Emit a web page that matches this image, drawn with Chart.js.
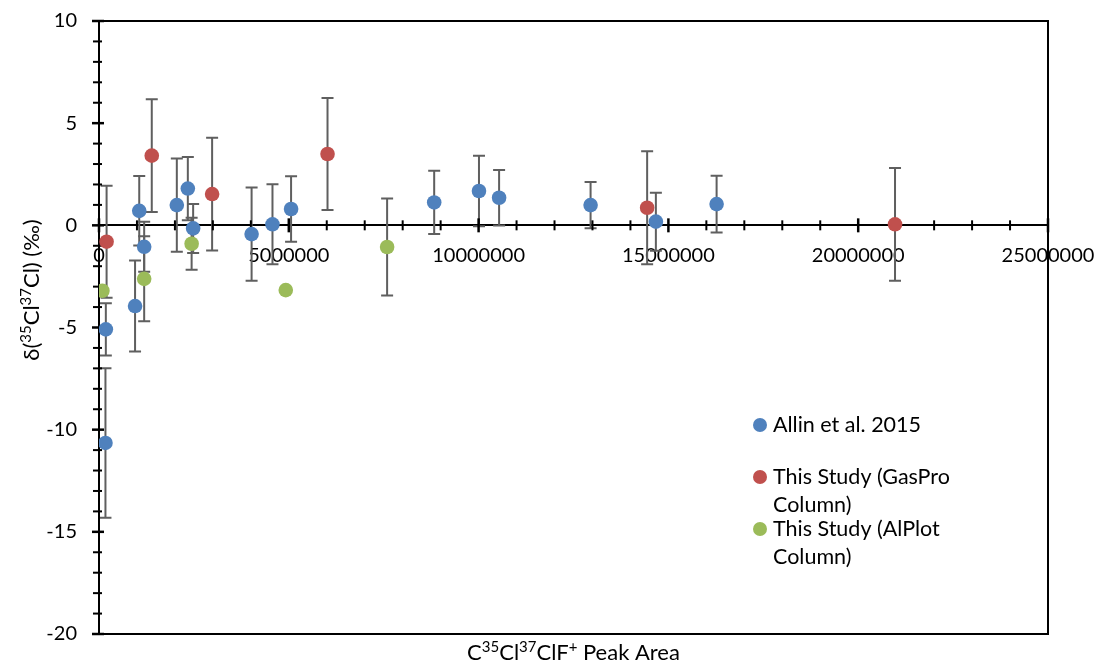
<!DOCTYPE html>
<html>
<head>
<meta charset="utf-8">
<script src="https://cdn.jsdelivr.net/npm/chart.js@4.4.0/dist/chart.umd.min.js"></script>
<style>
    html, body { margin: 0; padding: 0; background: #fff; }
    #wrap { width: 1099px; height: 665px; }
</style>
</head>
<body>
<div id="wrap"><canvas id="isotopes"></canvas></div>
<script>
// Allin et al. 2015
const allinArea = [170000, 180000, 950000, 1060000, 1190000, 2050000, 2340000, 2480000, 4020000, 4570000, 5060000, 8830000, 10010000, 10540000, 12950000, 14670000, 16270000];
const allinDelta = [-10.65, -5.09, -3.95, 0.71, -1.05, 0.99, 1.80, -0.15, -0.43, 0.05, 0.80, 1.12, 1.68, 1.35, 0.99, 0.18, 1.04];
const allinErr = [3.66, 1.28, 2.23, 1.70, 1.22, 2.28, 1.55, 1.20, 2.28, 1.96, 1.60, 1.55, 1.72, 1.36, 1.13, 1.42, 1.39];

// GasPro column runs
const gasproArea = [200000, 1390000, 2980000, 6020000, 14440000, 20970000];
const gasproDelta = [-0.80, 3.41, 1.53, 3.49, 0.86, 0.05];
const gasproErr = [2.74, 2.76, 2.76, 2.74, 2.76, 2.76];

// AlPlot column runs
const alplotArea = [90000, 1190000, 2440000, 4920000, 7590000];
const alplotDelta = [-3.20, -2.62, -0.90, -3.17, -1.06];
const alplotErr = [0, 2.08, 1.27, 0, 2.37];

const seriesNames = ['Allin et al. 2015', ['This Study (GasPro', 'Column)'], ['This Study (AlPlot', 'Column)']];
const seriesColors = ['#4F81BD', '#C0504D', '#9BBB59'];

const xMin = 0, xMax = 25000000, xStep = 1000000, xMajor = 5000000;
const yMin = -20, yMax = 10, yStep = 1, yMajor = 5;

const FONT = 'Lato, "Open Sans", sans-serif';

const toPoints = (xs, ys) => xs.map((v, i) => ({ x: v, y: ys[i] }));

// text with superscript runs, centred on (cx, cy)
function drawRich(ctx, parts, cx, cy, size) {
    const base = size + 'px ' + FONT;
    const small = Math.round(size * 0.66) + 'px ' + FONT;
    let w = 0;
    parts.forEach(p => { ctx.font = p.sup ? small : base; w += ctx.measureText(p.t).width; });
    let x = cx - w / 2;
    ctx.textAlign = 'left';
    ctx.textBaseline = 'alphabetic';
    parts.forEach(p => {
        ctx.font = p.sup ? small : base;
        ctx.fillText(p.t, x, cy + size * 0.36 - (p.sup ? size * 0.36 : 0));
        x += ctx.measureText(p.t).width;
    });
}

const errorBars = {
    id: 'errorBars',
    beforeDatasetsDraw(chart) {
        const { ctx, scales: { x, y } } = chart;
        ctx.save();
        ctx.strokeStyle = '#5f5f5f';
        ctx.lineWidth = 2;
        chart.data.datasets.forEach(ds => {
            ds.data.forEach((p, i) => {
                const e = ds.errors[i];
                if (!e) return;
                const px = x.getPixelForValue(p.x);
                const top = y.getPixelForValue(p.y + e);
                const bot = y.getPixelForValue(p.y - e);
                ctx.beginPath();
                ctx.moveTo(px, top); ctx.lineTo(px, bot);
                ctx.moveTo(px - 6, top); ctx.lineTo(px + 6, top);
                ctx.moveTo(px - 6, bot); ctx.lineTo(px + 6, bot);
                ctx.stroke();
            });
        });
        ctx.restore();
    }
};

// plot frame and tick marks crossing both axes
const frameTicks = {
    id: 'frameTicks',
    beforeDatasetsDraw(chart) {
        const { ctx, chartArea: a, scales: { x, y } } = chart;
        ctx.save();
        ctx.strokeStyle = '#000';
        ctx.lineWidth = 2;
        ctx.strokeRect(a.left, a.top, a.right - a.left, a.bottom - a.top);

        const y0 = y.getPixelForValue(0);
        x.ticks.forEach(t => {
            const px = x.getPixelForValue(t.value);
            const major = t.value % xMajor === 0;
            ctx.lineWidth = major ? 2.5 : 2;
            ctx.beginPath();
            ctx.moveTo(px, y0 - (major ? 7 : 5));
            ctx.lineTo(px, y0 + (major ? 7 : 5));
            ctx.stroke();
        });
        y.ticks.forEach(t => {
            const py = y.getPixelForValue(t.value);
            const major = t.value % yMajor === 0;
            ctx.lineWidth = major ? 2.5 : 2;
            ctx.beginPath();
            ctx.moveTo(a.left - (major ? 7 : 6), py);
            ctx.lineTo(a.left + (major ? 5 : 3), py);
            ctx.stroke();
        });
        ctx.restore();
    }
};

const titlesLegend = {
    id: 'titlesLegend',
    afterDraw(chart) {
        const { ctx, chartArea: a } = chart;
        ctx.save();
        ctx.fillStyle = '#000';

        // x title
        drawRich(ctx, [
            { t: 'C' }, { t: '35', sup: true }, { t: 'Cl' }, { t: '37', sup: true },
            { t: 'ClF' }, { t: '+', sup: true }, { t: ' Peak Area' }
        ], (a.left + a.right) / 2, 652, 22);

        // y title
        ctx.save();
        ctx.translate(31, 290);
        ctx.rotate(-Math.PI / 2);
        drawRich(ctx, [
            { t: 'δ(' }, { t: '35', sup: true }, { t: 'Cl' }, { t: '37', sup: true },
            { t: 'Cl) (‰)' }
        ], 0, 0, 22);
        ctx.restore();

        // legend inside the plot
        const rows = [425, 477, 529];
        ctx.font = '21.5px ' + FONT;
        ctx.textAlign = 'left';
        ctx.textBaseline = 'middle';
        chart.data.datasets.forEach((ds, i) => {
            ctx.fillStyle = ds.backgroundColor;
            ctx.beginPath();
            ctx.arc(760, rows[i], 7, 0, Math.PI * 2);
            ctx.fill();
            ctx.fillStyle = '#000';
            const lines = Array.isArray(ds.label) ? ds.label : [ds.label];
            lines.forEach((l, j) => ctx.fillText(l, 773, rows[i] + j * 28));
        });
        ctx.restore();
    }
};

const sets = [
    [allinArea, allinDelta, allinErr],
    [gasproArea, gasproDelta, gasproErr],
    [alplotArea, alplotDelta, alplotErr]
];

new Chart(document.getElementById('isotopes'), {
    type: 'scatter',
    data: {
        datasets: sets.map((s, i) => ({
            label: seriesNames[i],
            data: toPoints(s[0], s[1]),
            errors: s[2],
            backgroundColor: seriesColors[i],
            borderColor: seriesColors[i],
            pointRadius: 7.3,
            pointHoverRadius: 7.3,
            borderWidth: 0
        }))
    },
    options: {
        responsive: true,
        maintainAspectRatio: false,
        animation: false,
        layout: { padding: { top: 21, right: 51, bottom: 31, left: 0 } },
        plugins: {
            legend: { display: false },
            tooltip: { enabled: false }
        },
        scales: {
            x: {
                type: 'linear',
                position: { y: 0 },
                min: xMin,
                max: xMax,
                afterFit: s => { s.paddingLeft = 0; s.paddingRight = 0; s.paddingTop = 0; s.paddingBottom = 0; },
                grid: { display: false, drawTicks: false },
                border: { display: true, color: '#000', width: 2 },
                ticks: {
                    stepSize: xStep,
                    autoSkip: false,
                    maxRotation: 0,
                    padding: 18,
                    color: '#000',
                    font: { family: FONT, size: 20 },
                    callback: v => (v % xMajor === 0 ? String(v) : '')
                }
            },
            y: {
                type: 'linear',
                position: 'left',
                min: yMin,
                max: yMax,
                afterFit: s => { s.width = 99; s.paddingTop = 0; s.paddingBottom = 0; },
                grid: { display: false, drawTicks: false },
                border: { display: true, color: '#000', width: 2 },
                ticks: {
                    stepSize: yStep,
                    autoSkip: false,
                    padding: 22,
                    color: '#000',
                    font: { family: FONT, size: 20 },
                    callback: v => (v % yMajor === 0 ? String(v) : '')
                }
            }
        }
    },
    plugins: [errorBars, frameTicks, titlesLegend]
});
</script>
</body>
</html>
